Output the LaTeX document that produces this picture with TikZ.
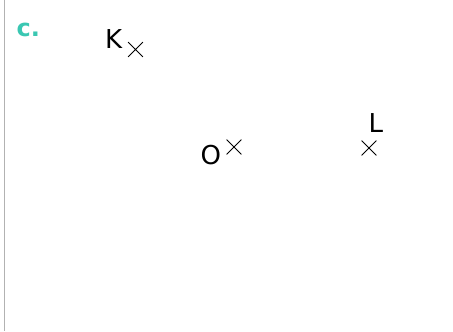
\documentclass[tikz,border=0pt]{standalone}
\usepackage{fontspec}
\setmainfont{DejaVu Sans}
\usetikzlibrary{shapes.misc}
\definecolor{tealc}{RGB}{58,199,178}
\tikzset{
  pt/.style={draw,cross out,minimum size=14bp,inner sep=0pt,line width=0.8bp},
}
\begin{document}
\begin{tikzpicture}[x=1bp,y=-1bp,
   lbl/.style={inner sep=0pt,anchor=base west,font=\fontsize{26bp}{30bp}\selectfont}]
  \useasboundingbox (0,0) rectangle (453,331);
  \draw[gray!60,line width=1.2bp] (4.5,0) -- (4.5,331);
  \node[lbl,text=tealc,font=\bfseries\fontsize{24bp}{28bp}\selectfont] (part) at (16.5,36) {c.};
  \node[lbl] (lk) at (105,48) {K};
  \node[pt] (k) at (135.5,49.5) {};
  \node[lbl] (lo) at (200.5,164.5) {O};
  \node[pt] (o) at (234,147) {};
  \node[lbl] (ll) at (368.5,132) {L};
  \node[pt] (l) at (369,148) {};
\end{tikzpicture}
\end{document}
